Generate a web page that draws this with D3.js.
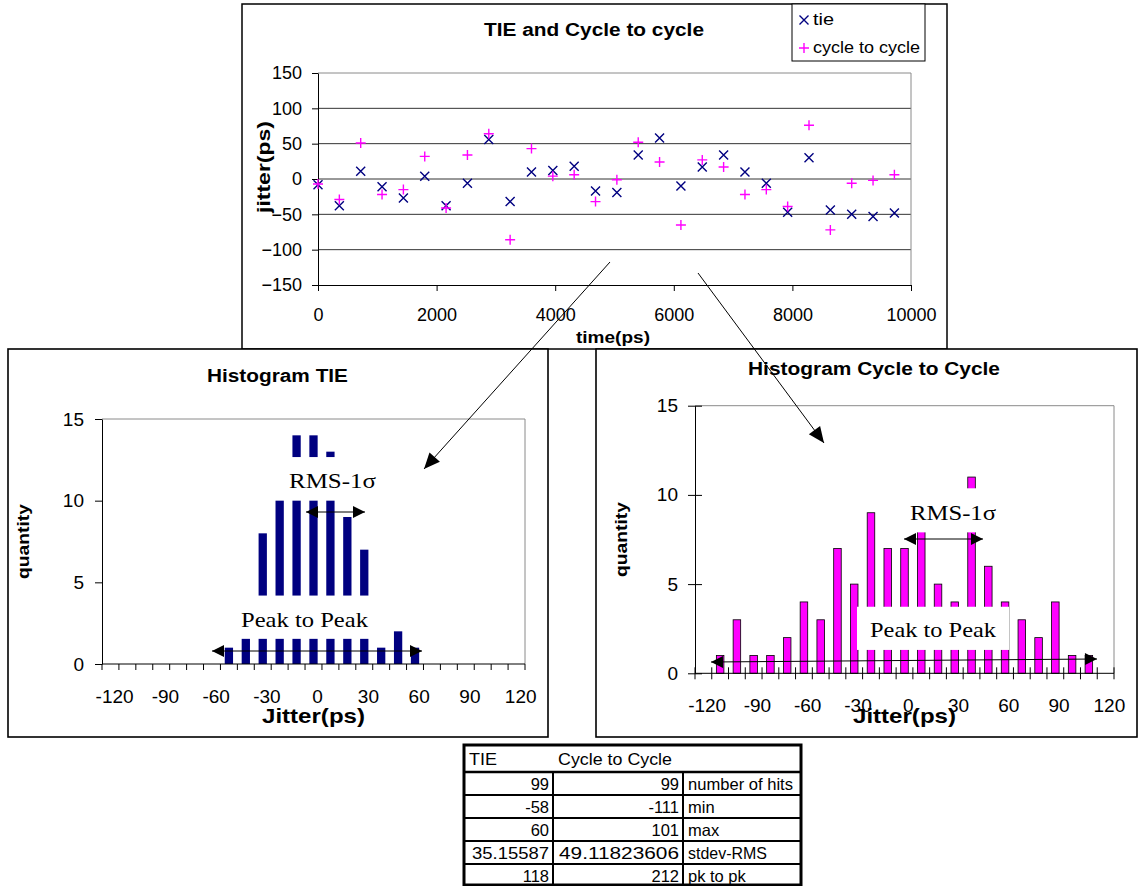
<!DOCTYPE html>
<html><head><meta charset="utf-8">
<script src="https://cdn.jsdelivr.net/npm/d3@7"></script>
<style>
html,body{margin:0;padding:0;background:#fff;}
svg{display:block;}
</style></head><body>
<svg id="fig" width="1138" height="886"></svg>
<script>
// ---------- DATA ----------
const times = [0,360,720,1080,1440,1800,2160,2520,2880,3240,3600,3960,4320,4680,5040,5400,5760,6120,6480,6840,7200,7560,7920,8280,8640,9000,9360,9720];
const tieJitter = [-8,-38,11,-11,-27,4,-38,-6,56,-32,10,12,18,-17,-19,34,58,-10,17,34,10,-6,-47,30,-44,-50,-53,-48];
const c2cJitter = [-7,-29,51,-22,-15,32,-41,34,64,-86,43,4,6,-32,-1,52,24,-65,27,17,-22,-15,-39,76,-72,-6,-2,6];
const timeTicks = [0,2000,4000,6000,8000,10000];
const jitterTicks = [-150,-100,-50,0,50,100,150];

const histCategories = [-120,-110,-100,-90,-80,-70,-60,-50,-40,-30,-20,-10,0,10,20,30,40,50,60,70,80,90,100,110,120];
const histLabels = [-120,-90,-60,-30,0,30,60,90,120];
const quantityTicks = [0,5,10,15];
const tieCounts = [0,0,0,0,0,0,0,1,4,8,10,14,14,13,9,7,1,2,1,0,0,0,0,0,0];
const c2cCounts = [0,1,3,1,1,2,4,3,7,5,9,7,7,8,5,4,11,6,4,3,2,4,1,1,0];

const tableHeader = ["TIE","Cycle to Cycle"];
const tieStats = ["99","-58","60","35.15587","118"];
const c2cStats = ["99","-111","101","49.11823606","212"];
const statNames = ["number of hits","min","max","stdev-RMS","pk to pk"];

// ---------- HELPERS ----------
const SANS = '"Liberation Sans", Arial, Helvetica, sans-serif';
const SERIF = '"Liberation Serif", "Times New Roman", serif';
const NAVY = "#000080", MAGENTA = "#ff00ff";
const svg = d3.select("#fig");
svg.append("rect").attr("width",1138).attr("height",886).attr("fill","#fff");

function label(g, s, x, y, o = {}) {
  const t = g.append("text").attr("x", x).attr("y", y).text(s)
    .attr("font-family", o.serif ? SERIF : SANS)
    .attr("font-size", o.size || 16)
    .attr("font-weight", o.bold ? "bold" : "normal")
    .attr("text-anchor", o.anchor || "start")
    .attr("fill", "#000");
  if (o.width) t.attr("textLength", o.width).attr("lengthAdjust", "spacingAndGlyphs");
  if (o.rotate) t.attr("transform", `rotate(${o.rotate},${x},${y})`);
  return t;
}
function arrowHead(g, xt, yt, xf, yf, len, half) {
  const a = Math.atan2(yt - yf, xt - xf);
  const bx = xt - len * Math.cos(a), by = yt - len * Math.sin(a);
  const px = -Math.sin(a) * half, py = Math.cos(a) * half;
  g.append("path").attr("d", `M${xt},${yt}L${bx+px},${by+py}L${bx-px},${by-py}Z`).attr("fill", "#000");
}
function arrow(g, x1, y1, x2, y2, both, len, half) {
  g.append("line").attr("x1", x1).attr("y1", y1).attr("x2", x2).attr("y2", y2)
    .attr("stroke", "#000").attr("stroke-width", 1);
  arrowHead(g, x2, y2, x1, y1, len, half);
  if (both) arrowHead(g, x1, y1, x2, y2, len, half);
}
function styleAxis(ax, size) {
  ax.attr("font-family", SANS).attr("font-size", size);
  ax.selectAll("text").attr("fill", "#000");
  ax.selectAll("line,path").attr("stroke", "#000");
}

// ---------- TOP SCATTER CHART ----------
const gTop = svg.append("g");
gTop.append("rect").attr("x", 242).attr("y", 4).attr("width", 705).attr("height", 345)
  .attr("fill", "#fff").attr("stroke", "#000").attr("stroke-width", 1.5);

const xT = d3.scaleLinear().domain([0, 10000]).range([318, 911]);
const yT = d3.scaleLinear().domain([-150, 150]).range([285, 73]);

gTop.selectAll("line.grid").data(jitterTicks.filter(v => v > -150)).join("line")
  .attr("x1", xT(0)).attr("x2", xT(10000))
  .attr("y1", d => yT(d)).attr("y2", d => yT(d))
  .attr("stroke", d => d === 150 ? "#8a8a8a" : "#333").attr("stroke-width", 1);
gTop.append("line").attr("x1", xT(10000)).attr("x2", xT(10000)).attr("y1", yT(150)).attr("y2", yT(-150))
  .attr("stroke", "#8a8a8a");

const axYT = gTop.append("g").attr("transform", `translate(${xT(0)},0)`)
  .call(d3.axisLeft(yT).tickValues(jitterTicks).tickSize(6).tickSizeOuter(0).tickPadding(10));
styleAxis(axYT, 18);
const axXT = gTop.append("g").attr("transform", `translate(0,${yT(-150)})`)
  .call(d3.axisBottom(xT).tickValues(timeTicks).tickFormat(d3.format("d")).tickSize(6).tickSizeOuter(0).tickPadding(17));
styleAxis(axXT, 18);

const crossPath = "M-4.5,-4.5L4.5,4.5M-4.5,4.5L4.5,-4.5";
const plusPath = "M-5,0L5,0M0,-5L0,5";
gTop.selectAll("path.tie").data(times).join("path").attr("class", "tie")
  .attr("d", crossPath).attr("transform", (t, i) => `translate(${xT(t)},${yT(tieJitter[i])})`)
  .attr("stroke", NAVY).attr("stroke-width", 1.4).attr("fill", "none");
gTop.selectAll("path.c2c").data(times).join("path").attr("class", "c2c")
  .attr("d", plusPath).attr("transform", (t, i) => `translate(${xT(t)},${yT(c2cJitter[i])})`)
  .attr("stroke", MAGENTA).attr("stroke-width", 1.4).attr("fill", "none");

label(gTop, "TIE and Cycle to cycle", 594, 36, { size: 18, bold: true, anchor: "middle", width: 220 });
label(gTop, "jitter(ps)", 270, 167, { size: 18, bold: true, anchor: "middle", rotate: -90, width: 92 });
label(gTop, "time(ps)", 613, 343, { size: 17, bold: true, anchor: "middle", width: 74 });

// legend
gTop.append("rect").attr("x", 792).attr("y", 4).attr("width", 133).attr("height", 57)
  .attr("fill", "#fff").attr("stroke", "#000").attr("stroke-width", 1);
gTop.append("path").attr("d", crossPath).attr("transform", "translate(804,20)")
  .attr("stroke", NAVY).attr("stroke-width", 1.4);
gTop.append("path").attr("d", plusPath).attr("transform", "translate(804,48)")
  .attr("stroke", MAGENTA).attr("stroke-width", 1.4);
label(gTop, "tie", 813, 25, { size: 16, width: 21 });
label(gTop, "cycle to cycle", 813, 53, { size: 16, width: 107 });

// ---------- HISTOGRAMS ----------
function histogram(cfg) {
  const g = svg.append("g");
  g.append("rect").attr("x", cfg.box[0]).attr("y", cfg.box[1])
    .attr("width", cfg.box[2] - cfg.box[0]).attr("height", cfg.box[3] - cfg.box[1])
    .attr("fill", "#fff").attr("stroke", "#000").attr("stroke-width", 1.6);
  const x = d3.scaleBand().domain(histCategories).range([cfg.plot.l, cfg.plot.r])
    .paddingInner(cfg.pad).paddingOuter(cfg.pad / 2);
  const y = d3.scaleLinear().domain([0, 15]).range([cfg.plot.b, cfg.plot.t]);
  g.append("path").attr("d", `M${cfg.plot.l},${y(15)}H${cfg.plot.r}V${y(0)}`)
    .attr("fill", "none").attr("stroke", "#8a8a8a").attr("stroke-width", 1);
  const data = histCategories.map((c, i) => ({ c, v: cfg.counts[i] })).filter(d => d.v > 0);
  g.selectAll("rect.bar").data(data).join("rect").attr("class", "bar")
    .attr("x", d => x(d.c)).attr("width", x.bandwidth())
    .attr("y", d => y(d.v)).attr("height", d => y(0) - y(d.v))
    .attr("fill", cfg.fill).attr("stroke", cfg.stroke || "none").attr("stroke-width", cfg.stroke ? 0.8 : 0);
  const ay = g.append("g").attr("transform", `translate(${cfg.plot.l},0)`)
    .call(d3.axisLeft(y).tickValues(quantityTicks).tickSize(7).tickSizeOuter(0).tickPadding(cfg.yPad));
  styleAxis(ay, 19);
  if (cfg.cross) ay.selectAll(".tick").append("line").attr("x1", 0).attr("x2", 7).attr("stroke", "#000");
  g.append("line").attr("x1", cfg.plot.l).attr("x2", cfg.plot.r).attr("y1", y(0)).attr("y2", y(0))
    .attr("stroke", "#000");
  const bounds = histCategories.map(c => x(c) + x.bandwidth() / 2 - x.step() / 2);
  bounds.push(cfg.plot.r);
  g.selectAll("line.xt").data(bounds).join("line")
    .attr("x1", d => d).attr("x2", d => d)
    .attr("y1", y(0) - (cfg.cross ? 6 : 0)).attr("y2", y(0) + 6)
    .attr("stroke", "#000");
  const ax = g.append("g").attr("transform", `translate(${x.bandwidth() / 2},${y(0)})`)
    .call(d3.axisBottom(x).tickValues(histLabels).tickSize(0).tickPadding(25.5));
  ax.select(".domain").remove();
  styleAxis(ax, 19);
  label(g, cfg.title, cfg.titleX, cfg.titleY, { size: 18, bold: true, anchor: "middle", width: cfg.titleW });
  label(g, "quantity", cfg.qX, (y(0) + y(15)) / 2, { size: 16, bold: true, anchor: "middle", rotate: -90, width: 75 });
  label(g, "Jitter(ps)", (cfg.plot.l + cfg.plot.r) / 2, 723, { size: 21, bold: true, anchor: "middle", width: 103 });
  cfg.notes.forEach(n => {
    g.append("rect").attr("x", n.box[0]).attr("y", y(n.box[3]))
      .attr("width", n.box[1] - n.box[0]).attr("height", y(n.box[2]) - y(n.box[3])).attr("fill", "#fff");
    label(g, n.text, n.tx, n.ty, { size: 22, serif: true, width: n.tw });
    arrow(g, n.arrow[0], n.arrow[1], n.arrow[2], n.arrow[3], true, 12, 6);
  });
  return g;
}

histogram({
  box: [8, 349, 548, 737],
  plot: { l: 102, r: 525, t: 419, b: 664 },
  counts: tieCounts, fill: NAVY, pad: 0.51, cross: false, yPad: 11,
  title: "Histogram TIE", titleX: 277.5, titleY: 382, titleW: 141, qX: 29,
  notes: [
    { box: [285, 380, 10, 12.67], text: "RMS-1σ", tx: 289, ty: 488, tw: 87, arrow: [306, 512, 365, 512] },
    { box: [236, 372, 1.54, 4.19], text: "Peak to Peak", tx: 241, ty: 627, tw: 127, arrow: [212, 651, 422, 651] }
  ]
});

histogram({
  box: [596, 349, 1137, 737],
  plot: { l: 695, r: 1114, t: 405.7, b: 673.3 },
  counts: c2cCounts, fill: MAGENTA, stroke: "#000", pad: 0.55, cross: true, yPad: 10,
  title: "Histogram Cycle to Cycle", titleX: 874, titleY: 375, titleW: 252, qX: 627,
  notes: [
    { box: [905, 1000, 7.9, 10.37], text: "RMS-1σ", tx: 910, ty: 520, tw: 86, arrow: [904, 539, 983, 539] },
    { box: [857, 1009, 1.31, 3.73], text: "Peak to Peak", tx: 870, ty: 637, tw: 126, arrow: [711, 662, 1097, 659] }
  ]
});

// ---------- CONNECTING ARROWS ----------
const gArr = svg.append("g");
arrow(gArr, 610, 262, 424, 469, false, 16, 7);
arrow(gArr, 698, 273, 824, 443, false, 16, 7);

// ---------- TABLE ----------
const gTab = svg.append("g");
const tL = 464, tR = 801, tT = 745, tB = 885;
const rowLines = [772, 795, 818, 841, 864];
const colLines = [553, 683];
gTab.append("rect").attr("x", tL).attr("y", tT).attr("width", tR - tL).attr("height", tB - tT)
  .attr("fill", "#fff").attr("stroke", "#000").attr("stroke-width", 3);
gTab.selectAll("line.r").data(rowLines).join("line")
  .attr("x1", tL).attr("x2", tR).attr("y1", d => d).attr("y2", d => d)
  .attr("stroke", "#000").attr("stroke-width", (d, i) => i === 0 ? 2.5 : 2);
gTab.selectAll("line.c").data(colLines).join("line")
  .attr("x1", d => d).attr("x2", d => d).attr("y1", rowLines[0]).attr("y2", tB)
  .attr("stroke", "#000").attr("stroke-width", 2);
const TFS = 16.5;
label(gTab, tableHeader[0], 469, 765, { size: TFS, width: 28 });
label(gTab, tableHeader[1], 558, 765, { size: TFS, width: 114 });
const tieW = [null, null, null, 77, null];
const c2cW = [null, null, null, 120, null];
const nameW = [105, null, null, 79, null];
statNames.forEach((s, i) => {
  const yb = rowLines[i] + 17.5;
  label(gTab, tieStats[i], 549, yb, { size: TFS, anchor: "end", width: tieW[i] });
  label(gTab, c2cStats[i], 679, yb, { size: TFS, anchor: "end", width: c2cW[i] });
  label(gTab, s, 688, yb, { size: TFS, width: nameW[i] });
});
</script>
</body></html>
